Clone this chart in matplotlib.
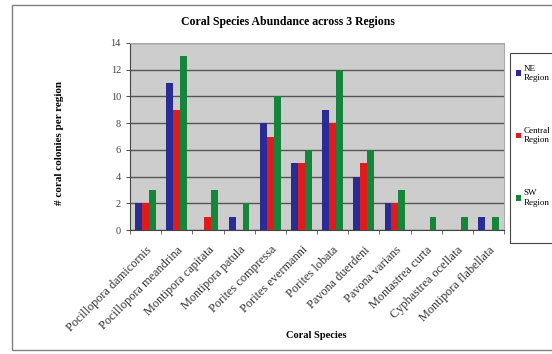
import matplotlib
matplotlib.use("Agg")
import matplotlib.pyplot as plt
import matplotlib.transforms as mtransforms
import numpy as np
from matplotlib.patches import Rectangle

species = ["Pocillopora damicornis", "Pocillopora meandrina", "Montipora capitata",
           "Montipora patula", "Porites compressa", "Porites evermanni",
           "Porites lobata", "Pavona duerdeni", "Pavona varians",
           "Montastrea curta", "Cyphastrea ocellata", "Montipora flabellata"]
ne_region = [2, 11, 0, 1, 8, 5, 9, 4, 2, 0, 0, 1]
central_region = [2, 9, 1, 0, 7, 5, 8, 5, 2, 0, 0, 0]
sw_region = [3, 13, 3, 2, 10, 6, 12, 6, 3, 1, 1, 1]
series_labels = ["NE\nRegion", "Central\nRegion", "SW\nRegion"]
colors = ["#2b2b96", "#e01b1b", "#16843a"]

plt.rcParams['font.family'] = ['Liberation Serif', 'DejaVu Serif']

fig = plt.figure(figsize=(5.52, 3.54), dpi=100)
fig.patch.set_facecolor('white')
# outer chart border
fig.patches.append(Rectangle((12/552, 1-350/354), 545/552, 345/354, transform=fig.transFigure,
                             fill=False, edgecolor='#808080', linewidth=1.0))
# legend box
fig.patches.append(Rectangle((510/552, 1-243/354), 50/552, 190/354, transform=fig.transFigure,
                             fill=False, edgecolor='#444444', linewidth=0.8))

ax = fig.add_axes([130/552, 1-230/354, 374/552, 187/354])
ax.set_facecolor('#cdcdcd')
x = np.arange(len(species))
w = 0.22
for i, (vals, c, lab) in enumerate(zip([ne_region, central_region, sw_region], colors, series_labels)):
    ax.bar(x + (i - 1) * w, vals, width=w, color=c, label=lab, zorder=3,
           edgecolor='none')

ax.set_xlim(-0.5, len(species) - 0.5)
ax.set_ylim(0, 14)
ax.set_yticks(range(0, 15, 2))
ax.yaxis.grid(True, color='#555555', linewidth=1.0, zorder=1)
ax.set_axisbelow(True)
ax.set_xticks(x)
ax.set_xticklabels(species, rotation=45, ha='right', rotation_mode='anchor',
                   fontsize=8.8, color='#333333')
offset = mtransforms.ScaledTranslation(-7/100, -3/100, fig.dpi_scale_trans)
for lbl in ax.get_xticklabels():
    lbl.set_transform(lbl.get_transform() + offset)
ax.set_xticks(np.arange(-0.5, len(species), 1), minor=True)
ax.tick_params(axis='x', which='major', length=0, pad=10)
ax.tick_params(axis='x', which='minor', length=3, color='#555555')
ax.tick_params(axis='y', labelsize=7.5, labelcolor='#444444', length=3, color='#555555')
for s in ['top', 'right']:
    ax.spines[s].set_color('#aaaaaa')
for s in ['left', 'bottom']:
    ax.spines[s].set_color('#444444')

fig.text(288/552, 1-22/354, "Coral Species Abundance across 3 Regions", ha='center', va='center',
         fontsize=8.5, fontweight='bold')
fig.text(316/552, 1-335/354, "Coral Species", ha='center', va='center',
         fontsize=7.5, fontweight='bold')
fig.text(60/552, 1-143/354, "# coral colonies per region", rotation=90, ha='center', va='center',
         fontsize=8, fontweight='bold')

leg = fig.legend(loc='upper left', bbox_to_anchor=(513/552, 1-62/354), fontsize=6.5,
                 frameon=False, handlelength=0.6,
                 handleheight=0.6, handletextpad=0.3, labelspacing=5.0, borderpad=0.3,
                 borderaxespad=0)

fig.savefig("out.png", dpi=100)
